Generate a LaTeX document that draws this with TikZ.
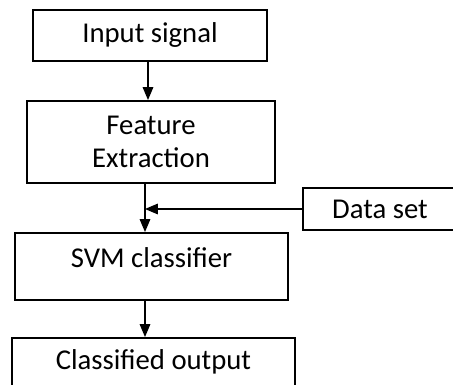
\documentclass[tikz,border=0pt]{standalone}
\usepackage{fontspec}
\setmainfont{Carlito}
\usetikzlibrary{arrows}

\begin{document}
\begin{tikzpicture}
        [x=1pt, y=-1pt,
        block/.style={rectangle, draw=black, line width=2pt, inner sep=0pt,
          font=\fontsize{28.7}{33}\selectfont, align=center},
        arr/.style={-triangle 45, line width=2pt}]
        \useasboundingbox (0,0) rectangle (453,385);
        \node (input) at (150, 35.5) [block, minimum width=234, minimum height=51] {Input signal};
        \node (feat) at (151, 142) [block, minimum width=248, minimum height=82] {Feature\\Extraction};
        \node (svm) at (151.5, 266.5) [block, minimum width=273, minimum height=67,
          text height=20pt, text depth=18pt] {SVM classifier};
        \node (out) at (153.5, 362) [block, minimum width=283, minimum height=48] {Classified output};
        \node (data) at (380, 209) [block, minimum width=154, minimum height=42] {Data set};
        \coordinate (join) at ([xshift=-6]feat.south |- data.west);
        \draw[arr] ([xshift=-2]input.south) -- ([xshift=-2]input.south |- feat.north);
        \draw[arr] ([xshift=-6]feat.south) -- ([xshift=-6]feat.south |- svm.north);
        \draw[arr] (data) -- (join);
        \draw[arr] ([xshift=-6.5]svm.south) -- ([xshift=-6.5]svm.south |- out.north);
\end{tikzpicture}
\end{document}
